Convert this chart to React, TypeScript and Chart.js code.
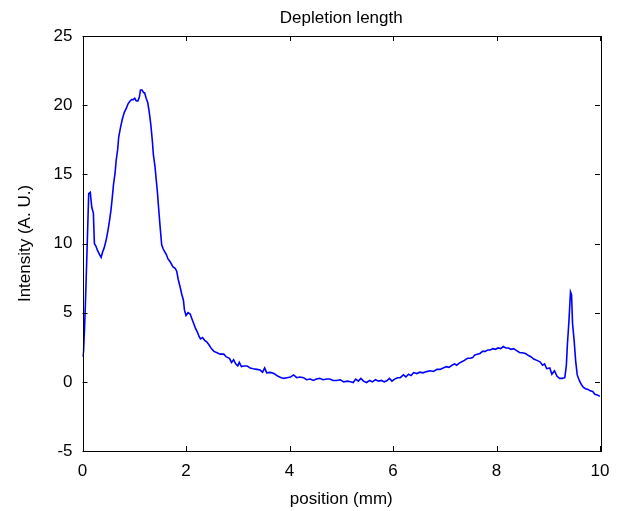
import React, { useEffect, useRef } from "react";
import { Chart, registerables } from "chart.js";

Chart.register(...registerables);

const positions = [
  0.0, 0.02, 0.04, 0.06, 0.09, 0.12, 0.15, 0.18, 0.21, 0.23, 0.26, 0.29, 0.33, 0.36, 0.39, 0.42, 0.46, 0.49,
  0.52, 0.55, 0.58, 0.6, 0.63, 0.65, 0.68, 0.7, 0.73, 0.77, 0.81, 0.85, 0.88, 0.92, 0.95, 0.98, 1.01, 1.04,
  1.07, 1.1, 1.12, 1.15, 1.18, 1.2, 1.23, 1.26, 1.29, 1.32, 1.35, 1.37, 1.4, 1.42, 1.45, 1.47, 1.5, 1.53,
  1.56, 1.59, 1.62, 1.65, 1.69, 1.72, 1.75, 1.79, 1.82, 1.85, 1.89, 1.92, 1.95, 1.97, 2.0, 2.04, 2.08, 2.11,
  2.15, 2.18, 2.22, 2.25, 2.28, 2.32, 2.36, 2.4, 2.44, 2.49, 2.54, 2.6, 2.66, 2.73, 2.78, 2.84, 2.88, 2.92,
  2.96, 3.0, 3.03, 3.07, 3.12, 3.18, 3.24, 3.3, 3.37, 3.43, 3.48, 3.52, 3.56, 3.63, 3.7, 3.78, 3.84, 3.89,
  3.95, 4.02, 4.08, 4.14, 4.2, 4.27, 4.33, 4.4, 4.46, 4.52, 4.58, 4.65, 4.72, 4.78, 4.84, 4.91, 4.98, 5.05,
  5.12, 5.18, 5.23, 5.28, 5.33, 5.38, 5.43, 5.49, 5.55, 5.6, 5.66, 5.72, 5.78, 5.83, 5.88, 5.93, 5.98, 6.03,
  6.09, 6.14, 6.2, 6.25, 6.3, 6.35, 6.4, 6.46, 6.52, 6.58, 6.65, 6.72, 6.78, 6.85, 6.91, 6.97, 7.03, 7.08,
  7.14, 7.19, 7.23, 7.28, 7.33, 7.38, 7.44, 7.49, 7.54, 7.58, 7.63, 7.68, 7.73, 7.78, 7.83, 7.88, 7.93, 7.98,
  8.03, 8.08, 8.13, 8.18, 8.23, 8.28, 8.33, 8.39, 8.45, 8.5, 8.56, 8.62, 8.67, 8.72, 8.78, 8.84, 8.89, 8.93,
  8.97, 9.03, 9.07, 9.12, 9.17, 9.22, 9.27, 9.32, 9.35, 9.37, 9.4, 9.43, 9.45, 9.47, 9.5, 9.53, 9.56, 9.6,
  9.64, 9.68, 9.72, 9.77, 9.81, 9.86, 9.9, 9.95, 10.0,
];

const intensity = [
  1.8, 2.2, 3.9, 6.1, 9.8, 13.6, 13.7, 12.6, 12.2, 10.0, 9.8, 9.5, 9.2, 9.0, 9.4, 9.7, 10.3, 10.9,
  11.6, 12.4, 13.5, 14.3, 15.1, 16.0, 16.8, 17.7, 18.3, 19.0, 19.5, 19.8, 20.1, 20.3, 20.4, 20.4, 20.5, 20.3,
  20.3, 20.6, 21.1, 21.1, 20.9, 20.9, 20.5, 20.2, 19.5, 18.6, 17.4, 16.4, 15.6, 14.8, 13.6, 12.6, 11.2, 9.9,
  9.6, 9.4, 9.2, 8.9, 8.7, 8.5, 8.3, 8.2, 8.0, 7.4, 6.8, 6.3, 5.9, 5.2, 4.8, 5.0, 4.9, 4.6,
  4.2, 3.9, 3.6, 3.3, 3.1, 3.2, 3.0, 2.9, 2.7, 2.4, 2.2, 2.1, 2.0, 2.0, 1.8, 1.7, 1.4, 1.6,
  1.3, 1.15, 1.4, 1.1, 1.15, 1.15, 1.0, 0.95, 0.9, 0.85, 0.7, 1.0, 0.65, 0.68, 0.6, 0.4, 0.3, 0.25,
  0.3, 0.35, 0.5, 0.3, 0.35, 0.3, 0.15, 0.2, 0.1, 0.2, 0.25, 0.15, 0.2, 0.2, 0.1, 0.1, 0.15, 0.0,
  0.05, 0.0, -0.05, 0.2, 0.05, 0.25, 0.05, -0.05, 0.1, 0.0, 0.15, 0.05, 0.1, 0.0, 0.07, 0.25, 0.05, 0.2,
  0.3, 0.3, 0.5, 0.35, 0.55, 0.45, 0.67, 0.6, 0.7, 0.65, 0.74, 0.8, 0.75, 0.9, 0.9, 1.0, 1.1, 1.05,
  1.2, 1.3, 1.2, 1.35, 1.45, 1.55, 1.7, 1.7, 1.75, 1.95, 2.0, 2.05, 2.2, 2.2, 2.3, 2.3, 2.4, 2.35,
  2.45, 2.4, 2.55, 2.45, 2.45, 2.35, 2.4, 2.25, 2.1, 2.1, 2.05, 1.9, 1.8, 1.65, 1.55, 1.45, 1.2, 1.3,
  0.95, 1.0, 0.55, 0.8, 0.4, 0.25, 0.25, 0.3, 1.2, 2.7, 4.4, 6.5, 6.3, 4.2, 3.0, 1.5, 0.5, 0.1,
  -0.2, -0.4, -0.5, -0.55, -0.65, -0.7, -0.9, -0.95, -1.05,
];

const xTickValues = [0, 2, 4, 6, 8, 10];
const yTickValues = [-5, 0, 5, 10, 15, 20, 25];

const titleText = "Depletion length";
const xTitle = "position (mm)";
const yTitle = "Intensity (A. U.)";

const FONT = "'Liberation Sans', Arial, Helvetica, sans-serif";
const FS = 17;

const framePlugin = {
  id: "frameTicks",
  afterDraw(chart: any) {
    const { ctx, chartArea, scales } = chart;
    const { left, right, top, bottom } = chartArea;
    ctx.save();
    ctx.strokeStyle = "#000";
    ctx.lineWidth = 1;
    ctx.strokeRect(Math.round(left) + 0.5, Math.round(top) + 0.5, Math.round(right - left), Math.round(bottom - top));
    const len = 5;
    ctx.beginPath();
    for (const v of xTickValues) {
      const px = Math.round(scales.x.getPixelForValue(v)) + 0.5;
      ctx.moveTo(px, bottom);
      ctx.lineTo(px, bottom - len);
      ctx.moveTo(px, top);
      ctx.lineTo(px, top + len);
    }
    for (const v of yTickValues) {
      const py = Math.round(scales.y.getPixelForValue(v)) + 0.5;
      ctx.moveTo(left, py);
      ctx.lineTo(left + len, py);
      ctx.moveTo(right, py);
      ctx.lineTo(right - len, py);
    }
    ctx.stroke();
    ctx.restore();
  },
};

export default function App() {
  const canvasRef = useRef<HTMLCanvasElement | null>(null);

  useEffect(() => {
    if (!canvasRef.current) return;
    const data = positions.map((p, i) => ({ x: p, y: intensity[i] }));
    const chart = new Chart(canvasRef.current, {
      type: "line",
      data: {
        datasets: [
          {
            data,
            borderColor: "#0000ff",
            borderWidth: 1.6,
            pointRadius: 0,
            tension: 0,
            fill: false,
          },
        ],
      },
      plugins: [framePlugin],
      options: {
        animation: false,
        responsive: true,
        maintainAspectRatio: false,
        layout: { padding: { left: 0, right: 22, top: 0, bottom: 0 } },
        plugins: {
          legend: { display: false },
          tooltip: { enabled: false },
          title: {
            display: true,
            fullSize: false,
            text: titleText,
            color: "#000",
            font: { family: FONT, size: FS, weight: "normal", lineHeight: 1.2 },
            padding: { top: 8, bottom: 7.6 },
          },
        },
        scales: {
          x: {
            type: "linear",
            min: 0,
            max: 10,
            afterFit(scale: any) {
              scale.height = 60;
            },
            afterBuildTicks(scale: any) {
              scale.ticks = xTickValues.map((v) => ({ value: v }));
            },
            grid: { display: false, drawTicks: false },
            border: { display: false },
            ticks: {
              color: "#000",
              padding: 10.3,
              maxRotation: 0,
              font: { family: FONT, size: FS },
            },
            title: {
              display: true,
              text: xTitle,
              color: "#000",
              font: { family: FONT, size: FS, lineHeight: 1.2 },
              padding: { top: 0, bottom: 1 },
            },
          },
          y: {
            type: "linear",
            min: -5,
            max: 25,
            afterFit(scale: any) {
              scale.width = 82.5;
            },
            afterBuildTicks(scale: any) {
              scale.ticks = yTickValues.map((v) => ({ value: v }));
            },
            grid: { display: false, drawTicks: false },
            border: { display: false },
            ticks: {
              color: "#000",
              padding: 10,
              font: { family: FONT, size: FS },
            },
            title: {
              display: true,
              text: yTitle,
              color: "#000",
              font: { family: FONT, size: FS, lineHeight: 1.2 },
              padding: { top: 15, bottom: 0 },
            },
          },
        },
      },
    });
    return () => chart.destroy();
  }, []);

  return (
    <div style={{ position: "fixed", left: 0, top: 0, width: 622, height: 511, background: "#fff" }}>
      <canvas ref={canvasRef} />
    </div>
  );
}
